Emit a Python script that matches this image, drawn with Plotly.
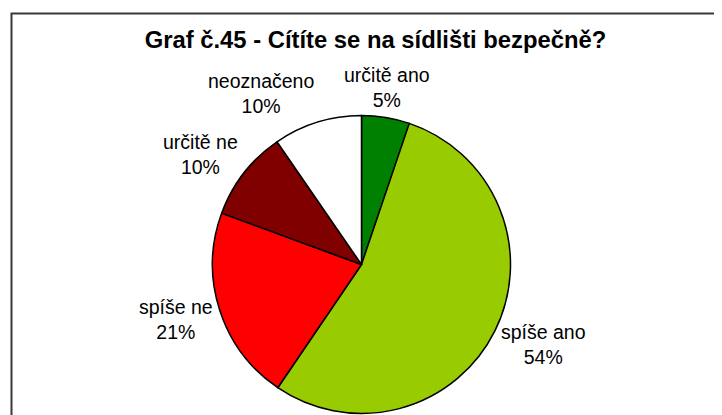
import math
import plotly.graph_objects as go

labels = ["určitě ano", "spíše ano", "spíše ne", "určitě ne", "neoznačeno"]
values = [5.2, 54.3, 21.1, 9.8, 9.6]
colors = ["#008000", "#99CC00", "#FF0000", "#800000", "#FFFFFF"]
title = "Graf č.45 - Cítíte se na sídlišti bezpečně?"

# page has an 8px body margin, so the figure is sized to fill the rest of the window
W, H = 714, 407
cx, cy, r = 353.5, 256.5, 149       # pie centre / radius in figure pixels
FS = 19.5                            # label font size
R_LAB = 154                          # radius where label boxes touch
BOX_H = 2 * 1.3 * FS                 # height of a two-line label

fig = go.Figure()
fig.add_trace(go.Pie(
    labels=labels, values=values, sort=False, direction="clockwise", rotation=0,
    marker=dict(colors=colors, line=dict(color="#000000", width=1.5)),
    textinfo="none", showlegend=False, hoverinfo="label+percent",
    domain=dict(x=[(cx - r) / W, (cx + r) / W], y=[(H - cy - r) / H, (H - cy + r) / H]),
))

# outside labels, positioned from each slice's mid angle
total = sum(values)
cum = 0.0
annotations = []
for lab, v in zip(labels, values):
    mid = (cum + v / 2) / total * 2 * math.pi
    cum += v
    s, c = math.sin(mid), math.cos(mid)
    px, py = cx + R_LAB * s, cy - R_LAB * c
    pct = f"{round(v / total * 100)}%"
    xa = "left" if s > 0.25 else ("right" if s < -0.25 else "center")
    ly = py - BOX_H / 2 * c
    annotations.append(dict(
        x=px / W, y=1 - ly / H, xref="paper", yref="paper",
        text=lab + "<br>" + pct, showarrow=False, xanchor=xa, yanchor="middle", align="center",
        font=dict(family="Liberation Sans, Arial", size=FS, color="#000000"),
    ))

fig.update_layout(
    width=W, height=H, margin=dict(l=0, r=0, t=0, b=0),
    paper_bgcolor="#FFFFFF", plot_bgcolor="#FFFFFF",
    title=dict(text="<b>" + title + "</b>", x=367.5 / W, xanchor="center", y=1 - 32 / H, yanchor="middle",
               font=dict(family="Liberation Sans, Arial", size=23.8, color="#000000")),
    annotations=annotations,
    shapes=[dict(type="rect", xref="paper", yref="paper", x0=3.5 / W, x1=1.05, y0=-0.05, y1=1 - 5.5 / H,
                 line=dict(color="#383838", width=2), fillcolor="rgba(0,0,0,0)", layer="below")],
)
fig.write_html("out.html")
